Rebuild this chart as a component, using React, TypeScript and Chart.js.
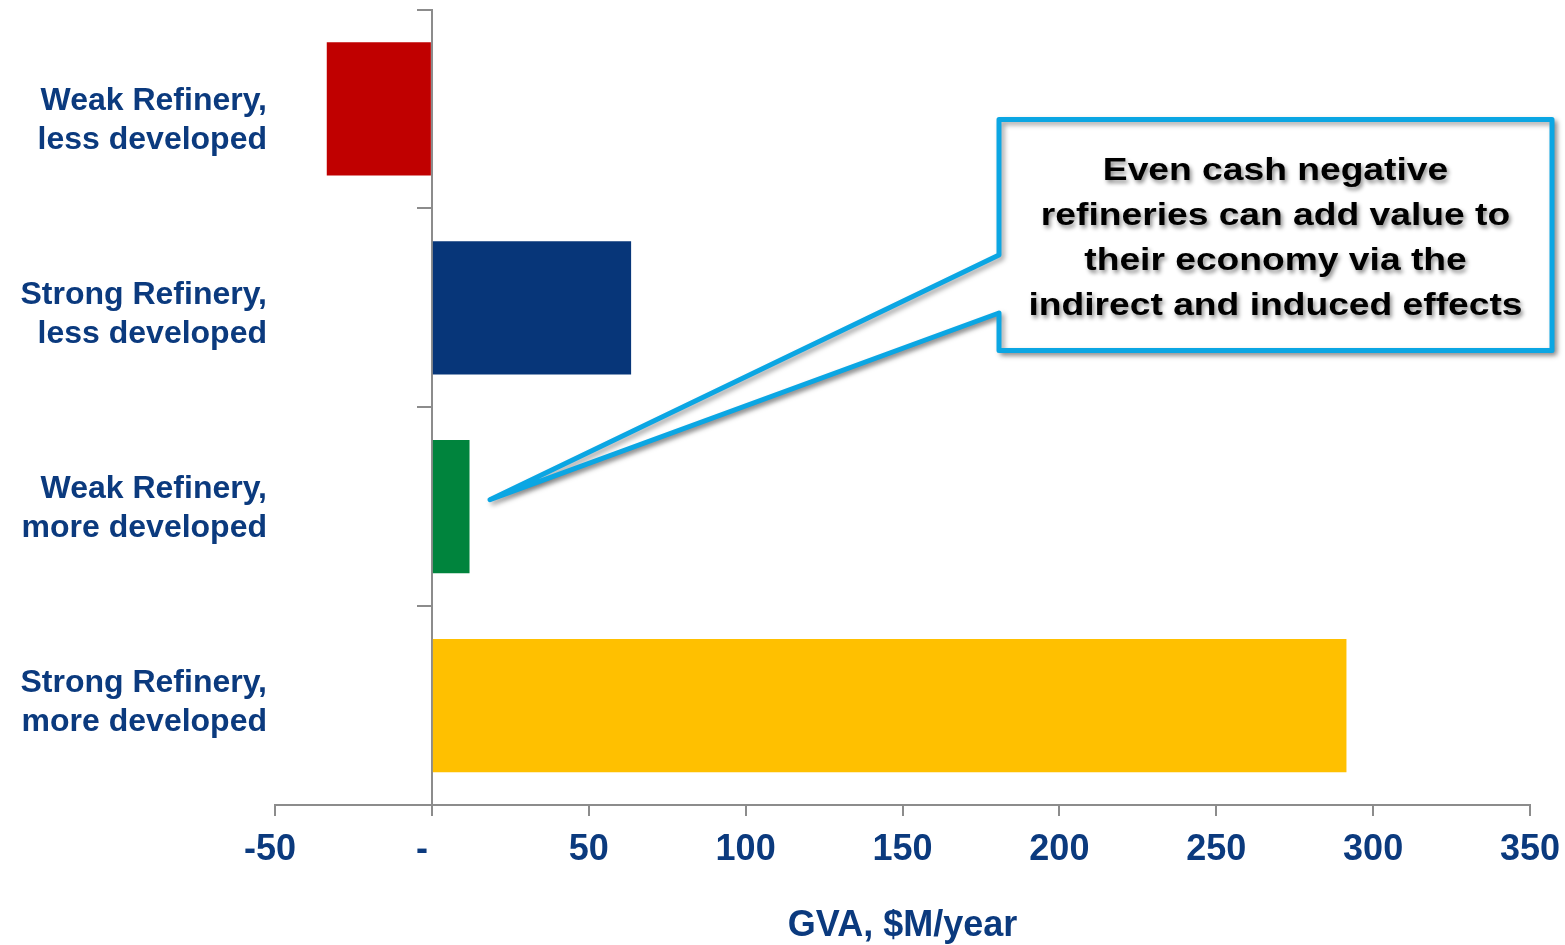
import React, { useEffect, useRef } from 'react';
import { Chart, registerables } from 'chart.js';

Chart.register(...registerables);

// Refinery scenarios, top to bottom
const categories: string[][] = [
  ['Weak Refinery,', 'less developed'],
  ['Strong Refinery,', 'less developed'],
  ['Weak Refinery,', 'more developed'],
  ['Strong Refinery,', 'more developed'],
];

// Gross value added, $M per year
const gvaValues: number[] = [-33.5, 63.5, 12, 291.5];

const barColors: string[] = ['#C00000', '#073679', '#00843D', '#FFC000'];

const axisMin = -50;
const axisMax = 350;
const axisStep = 50;
const axisTitle = 'GVA, $M/year';

const calloutLines: string[] = [
  'Even cash negative',
  'refineries can add value to',
  'their economy via the',
  'indirect and induced effects',
];
// The callout points at the weak, more developed refinery bar
const calloutTargetIndex = 2;
const calloutTipValue = 18.5;

const FONT = '"Liberation Sans", Arial, Helvetica, sans-serif';
const NAVY = '#0B3A7E';
const AXIS_GREY = '#8C8C8C';

// Accounting-style tick labels: zero shown as a dash
const formatTick = (v: number): string => {
  if (v === 0) return '-  ';
  if (v < 0) return `${v} `;
  return `${v}`;
};

// The category label column sits slightly inside the plot's vertical extent
const labelBandInset = { top: 14, bottom: 5.5 };
const labelBandPlugin = {
  id: 'labelBand',
  afterLayout(chart: any) {
    const s = chart.scales.y;
    const area = chart.chartArea;
    if (!s || !area) return;
    s.top = area.top + labelBandInset.top;
    s.bottom = area.bottom - labelBandInset.bottom;
    s.height = s.bottom - s.top;
    s.configure();
  },
};

const calloutPlugin = {
  id: 'calloutBox',
  afterDraw(chart: any) {
    const { ctx, scales } = chart;
    const tipX = scales.x.getPixelForValue(calloutTipValue);
    const tipY = scales.y2.getPixelForValue(calloutTargetIndex) - 7;

    const left = 999;
    const top = 119.5;
    const right = 1552;
    const bottom = 350.5;
    const joinTop = 255;
    const joinBottom = 313;

    ctx.save();
    ctx.beginPath();
    ctx.moveTo(tipX, tipY);
    ctx.lineTo(left, joinTop);
    ctx.lineTo(left, top);
    ctx.lineTo(right, top);
    ctx.lineTo(right, bottom);
    ctx.lineTo(left, bottom);
    ctx.lineTo(left, joinBottom);
    ctx.closePath();

    ctx.shadowColor = 'rgba(0,0,0,0.35)';
    ctx.shadowBlur = 5;
    ctx.shadowOffsetX = 3;
    ctx.shadowOffsetY = 3;
    ctx.fillStyle = '#FFFFFF';
    ctx.fill();
    ctx.lineWidth = 5;
    ctx.lineJoin = 'round';
    ctx.lineCap = 'round';
    ctx.strokeStyle = '#0BA6E3';
    ctx.stroke();

    // Callout text with a soft drop shadow
    ctx.shadowColor = 'rgba(0,0,0,0.45)';
    ctx.shadowBlur = 4;
    ctx.shadowOffsetX = 2;
    ctx.shadowOffsetY = 3;
    ctx.fillStyle = '#000000';
    ctx.font = `bold 31px ${FONT}`;
    ctx.textAlign = 'center';
    ctx.textBaseline = 'alphabetic';
    const cx = (left + right) / 2;
    const firstBaseline = 180;
    const lineGap = 45;
    calloutLines.forEach((line, i) => {
      ctx.save();
      ctx.translate(cx, firstBaseline + i * lineGap);
      ctx.scale(1.2, 1);
      ctx.fillText(line, 0, 0);
      ctx.restore();
    });
    ctx.restore();
  },
};

export default function App() {
  const canvasRef = useRef<HTMLCanvasElement | null>(null);

  useEffect(() => {
    if (!canvasRef.current) return;
    const chart = new Chart(canvasRef.current, {
      type: 'bar',
      data: {
        labels: categories as any,
        datasets: [
          {
            data: gvaValues,
            backgroundColor: barColors,
            borderWidth: 0,
            categoryPercentage: 1,
            barPercentage: 0.67,
            yAxisID: 'y2',
          },
        ],
      },
      options: {
        indexAxis: 'y',
        animation: false,
        responsive: true,
        maintainAspectRatio: false,
        layout: { padding: { top: 9.5, right: 35, left: 0, bottom: 0 } },
        plugins: {
          legend: { display: false },
          tooltip: { enabled: false },
          title: { display: false },
        },
        scales: {
          x: {
            type: 'linear',
            position: 'bottom',
            min: axisMin,
            max: axisMax,
            ticks: {
              stepSize: axisStep,
              padding: 12,
              color: NAVY,
              font: { family: FONT, size: 36, weight: 'bold' },
              callback: (v: any) => formatTick(Number(v)),
            },
            grid: {
              display: true,
              drawOnChartArea: false,
              drawTicks: true,
              tickLength: 11,
              color: AXIS_GREY,
              lineWidth: 2,
            },
            border: { display: true, color: AXIS_GREY, width: 2 },
            title: {
              display: true,
              text: axisTitle,
              color: NAVY,
              font: { family: FONT, size: 36, weight: 'bold' },
              padding: { top: 0, bottom: -3 },
            },
            afterFit: (scale: any) => {
              scale.height = 140;
              scale.paddingLeft = 0;
              scale.paddingRight = 0;
            },
          },
          // Category labels column
          y: {
            type: 'category',
            position: 'left',
            offset: true,
            ticks: {
              padding: 8,
              color: NAVY,
              font: { family: FONT, size: 32, weight: 'bold', lineHeight: 1.22 },
            },
            grid: { display: false, drawTicks: false },
            border: { display: false },
            afterFit: (scale: any) => {
              scale.width = 275;
              scale.paddingTop = 0;
              scale.paddingBottom = 0;
            },
          },
          // Value axis line drawn at zero, with category separators
          y2: {
            type: 'category',
            axis: 'y',
            position: { x: 0 },
            offset: true,
            ticks: { display: false },
            grid: {
              display: true,
              offset: true,
              drawOnChartArea: false,
              drawTicks: true,
              tickLength: 14,
              color: AXIS_GREY,
              lineWidth: 2,
            },
            border: { display: true, color: AXIS_GREY, width: 2 },
          },
        },
      } as any,
      plugins: [labelBandPlugin, calloutPlugin],
    });
    return () => chart.destroy();
  }, []);

  return (
    <div style={{ position: 'fixed', left: 0, top: 0, width: 1565, height: 945, background: '#FFFFFF' }}>
      <canvas ref={canvasRef} />
    </div>
  );
}
